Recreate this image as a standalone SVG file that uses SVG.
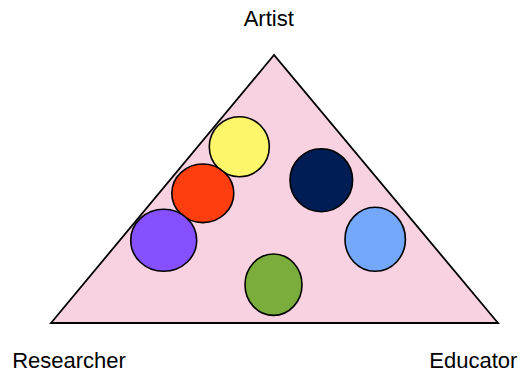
<svg xmlns="http://www.w3.org/2000/svg" width="520" height="372" viewBox="0 0 520 372">
<style>
.lbl{font-family:"Liberation Sans",Arial,sans-serif;font-size:22px;fill:#000;text-anchor:middle}
.c{stroke:#000;stroke-width:1.6}
</style>
<rect width="520" height="372" fill="#fff"/>
<g id="triangle"><polygon points="274,55 51,323 498,323" fill="#f8d2e0" stroke="#000" stroke-width="1.8" stroke-linejoin="miter"/></g>
<g id="labels">
<text class="lbl" x="268.7" y="26">Artist</text>
<text class="lbl" x="69" y="368">Researcher</text>
<text class="lbl" x="473.3" y="368">Educator</text>
</g>
<g id="yellow"><ellipse class="c" cx="239.3" cy="146.7" rx="30" ry="30" fill="#fef66a"/></g>
<g id="red"><ellipse class="c" cx="202.8" cy="193.3" rx="31" ry="29.3" fill="#fe3e0e"/></g>
<g id="purple"><ellipse class="c" cx="163.7" cy="240.3" rx="33" ry="31" fill="#8650fe"/></g>
<g id="navy"><ellipse class="c" cx="321.3" cy="180.2" rx="31.3" ry="31.5" fill="#001d55"/></g>
<g id="lightblue"><ellipse class="c" cx="375.2" cy="239.3" rx="30.2" ry="32" fill="#74a8fd"/></g>
<g id="green"><ellipse class="c" cx="273.5" cy="284.7" rx="28.5" ry="30.7" fill="#7aad3c"/></g>
<g id="connectors"/>
</svg>
